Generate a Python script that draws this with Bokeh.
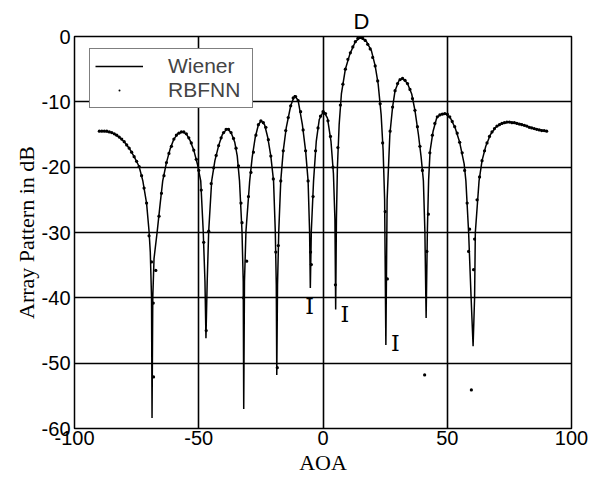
from bokeh.plotting import figure
from bokeh.models import Legend, LegendItem, Label, FixedTicker, Range1d, PrintfTickFormatter, Title
from bokeh.embed import file_html
from bokeh.resources import INLINE

# ---- Wiener array pattern (AOA in degrees, pattern in dB) ----
wiener_aoa = [-90, -88, -86, -84, -82, -80, -78, -76, -74, -72.5, -71, -70, -69.5, -69.0, -68.8,
              -68.5, -68, -66.7, -65.5, -64.5, -63, -61.5, -60, -58.5, -56.6, -55, -53.5, -52,
              -50.5, -49.2, -48.2, -47.5, -47.1, -46.6, -46.0, -44.8, -43.5, -42, -40.5, -38.6,
              -37, -35.5, -34.5, -33.6, -32.6, -32.1, -31.9, -31.6, -31.0, -29.5, -28.5, -27.3,
              -26, -24.9, -23.5, -22.2, -21, -19.9, -19.2, -18.8, -18.6, -18.3, -17.8, -17.0,
              -16, -14.8, -13, -11.4, -10, -8.3, -7, -6.0, -5.4, -5.1, -4.7, -3.8, -2.7, -1.5,
              0.2, 1.8, 3.2, 4.2, 4.8, 5.1, 5.4, 5.8, 6.5, 7.4, 9, 10.8, 13, 15.2, 17.5, 19.5,
              21, 22.2, 23.4, 24.2, 24.8, 25.3, 25.8, 26.9, 28, 29, 30.5, 32.1, 34, 35.7, 37,
              38.4, 39.5, 40.4, 41.0, 41.5, 42.0, 42.5, 43.1, 44.3, 45.8, 47.5, 49.4, 51.3, 53.2,
              55, 56.8, 57.5, 58.6, 59.6, 60.4, 61.0, 61.3, 62.8, 64, 65.5, 67.4, 69.5, 71.4,
              74.7, 77, 79.5, 82, 84.8, 87.5, 90]
wiener_db = [-14.5, -14.5, -14.6, -14.9, -15.4, -16.1, -17.1, -18.4, -19.9, -22.1, -25.5, -29.8, -33, -40, -58.4,
             -40, -34, -29.8, -25.5, -22.1, -19.3, -17.2, -15.7, -14.9, -14.6, -14.9, -15.9, -17.4,
             -19.6, -22.1, -29.8, -37.5, -46.2, -37.5, -29.8, -22.1, -19.0, -16.7, -15.0, -14.1,
             -14.7, -16.2, -18.3, -22.1, -29.8, -37.5, -57, -37.5, -29.8, -22.1, -18.5, -15.5,
             -13.5, -12.9, -13.5, -15.5, -18.3, -22.1, -29.8, -38, -51.8, -38, -29.8, -22.1,
             -17.5, -14.0, -10.6, -9.0, -9.8, -13.5, -17.5, -22.1, -29.8, -38.5, -29.8, -22.1, -16, -12.7,
             -11.4, -12.5, -16, -21, -28, -41.8, -28, -20, -13.5, -8.8, -5, -2.7, -0.8, -0.1, -0.8, -2.2,
             -4.5, -7.3, -12, -17.5, -25, -47.2, -25, -15, -10.8, -8.3, -6.8, -6.4, -7.2, -8.8, -11.3,
             -15, -18.5, -22.1, -29.8, -43.1, -29.8, -22, -17.5, -14.5, -12.4, -11.9, -11.8, -12.5, -14,
             -16.2, -19.5, -22.1, -30, -40, -47.4, -40, -30, -22.1, -19, -16.8, -15, -13.9, -13.4,
             -13.1, -13.2, -13.4, -13.7, -14.1, -14.3, -14.5]

# ---- RBFNN array pattern ----
rbf_aoa = [-90, -89, -88, -87, -86, -85, -84, -83, -82, -81, -80, -79, -78, -77, -76, -75, -74, -73,
           -72, -71, -70, -69, -68.3, -68.2, -67.3, -66, -65, -64, -63, -62, -61, -60, -59, -58, -57,
           -56, -55, -54, -53, -52, -51, -50, -49, -48, -47, -46, -45, -44, -43, -42, -41, -40, -39,
           -38, -37, -36, -35, -34, -33, -32.6, -32, -30.7, -30, -29, -28, -27, -26, -25, -24, -23,
           -22, -21, -20, -19, -18.4, -18, -17, -16, -15, -14, -13, -12, -11, -10, -9, -8, -7, -6,
           -5, -4.7, -4, -3, -2, -1, 0, 1, 2, 3, 4, 5, 6, 7, 8, 9, 10, 11, 12, 13, 14, 15, 16, 17, 18,
           19, 20, 21, 22, 23, 24, 25, 25.9, 27, 28, 29, 30, 31, 32, 33, 34, 35, 36, 37, 38, 39, 40,
           40.9, 41.8, 42.4, 43, 44, 45, 46, 47, 48, 49, 50, 51, 52, 53, 54, 55, 56, 57, 58, 58.6, 59,
           59.7, 60.6, 61, 62, 63, 64, 65, 66, 67, 68, 69, 70, 71, 72, 73, 74, 75, 76, 77, 78, 79,
           80, 81, 82, 83, 84, 85, 86, 87, 88, 89, 90]
rbf_db = [-14.5, -14.5, -14.5, -14.5, -14.6, -14.7, -14.9, -15.1, -15.4, -15.7, -16.1, -16.6, -17.1, -17.7,
          -18.4, -19.1, -19.9, -21.3, -23.2, -25.5, -30.5, -34.5, -40.8, -52.1, -35.8, -27.5, -24, -21.3,
          -19.3, -17.9, -16.8, -15.7, -15.1, -14.8, -14.6, -14.6, -14.9, -15.5, -16.3, -17.4, -18.8,
          -20.5, -23.5, -31.5, -45, -29.8, -22.5, -20.1, -18.2, -16.7, -15.5, -14.7, -14.2, -14.2,
          -14.7, -15.6, -17.1, -19.8, -25.5, -28.5, -40, -34.4, -24.5, -20.8, -17.7, -15.1, -13.5,
          -12.9, -13.2, -13.9, -15.8, -18.3, -21.8, -33, -50.7, -32, -22.1, -17.5, -14.4, -12.4,
          -10.6, -9.4, -9.2, -9.8, -11.5, -14.3, -17.5, -22.1, -33, -34.9, -24.5, -17.5, -14.0,
          -12.2, -11.5, -11.8, -12.9, -15.3, -20, -38, -17, -10.5, -7.3, -5, -3.5, -2.5, -1.6, -0.8,
          -0.3, -0.1, -0.3, -0.6, -1.2, -1.9, -3.2, -4.5, -6.8, -10.3, -16.3, -26.8, -37.1, -14.5,
          -10.8, -8.3, -7.2, -6.6, -6.4, -6.7, -7.2, -8.1, -9.5, -11.3, -13.8, -16.8, -20.5, -51.8,
          -32.9, -27.2, -17.8, -15.1, -13.3, -12.3, -12, -11.9, -11.8, -11.9, -12.3, -13, -13.8,
          -14.8, -16.2, -17.8, -20.5, -25.5, -32.9, -29.5, -54.1, -35.7, -31, -25, -21.5, -19,
          -17.5, -16.3, -15.3, -14.6, -14.1, -13.7, -13.5, -13.3, -13.2, -13.1, -13.1, -13.2,
          -13.2, -13.3, -13.4, -13.5, -13.6, -13.7, -13.9, -14.0, -14.1, -14.2, -14.3, -14.4,
          -14.4, -14.5]

x_ticks = [-100, -50, 0, 50, 100]
y_ticks = [-60, -50, -40, -30, -20, -10, 0]

# annotations: desired signal D (above the frame) and interferers I
d_text = "D"
i_marks_aoa = [-5.4, 8.8, 29.1]
i_marks_db = [-41.3, -42.6, -47.0]

p = figure(width=603, height=482, output_backend="svg", toolbar_location=None,
           x_range=Range1d(-100, 100), y_range=Range1d(-60, 0),
           min_border_left=74, min_border_right=32, min_border_top=36, min_border_bottom=54)
p.background_fill_color = "white"
p.border_fill_color = "white"
p.outline_line_color = "black"
p.outline_line_width = 1.5

# "D" marker placed above the main lobe (as a title so it is not clipped by the frame)
p.title = Title(text=d_text, align="left", offset=279, standoff=6,
                text_font="Liberation Sans", text_font_size="22px",
                text_font_style="normal", text_color="black")

p.xaxis.ticker = FixedTicker(ticks=x_ticks)
p.yaxis.ticker = FixedTicker(ticks=y_ticks)
for ax in (p.xaxis[0], p.yaxis[0]):
    ax.formatter = PrintfTickFormatter(format="%d")
    ax.axis_line_color = None
    ax.major_tick_line_color = None
    ax.minor_tick_line_color = None
    ax.major_tick_out = 0
    ax.major_tick_in = 0
    ax.minor_tick_out = 0
    ax.minor_tick_in = 0
    ax.major_label_text_font = "Liberation Sans"
    ax.major_label_text_font_size = "20px"
    ax.major_label_text_color = "black"
    ax.axis_label_text_font = "Liberation Serif"
    ax.axis_label_text_font_size = "22px"
    ax.axis_label_text_font_style = "normal"
    ax.axis_label_text_color = "black"
p.xaxis.axis_label = "AOA"
p.yaxis.axis_label = "Array Pattern in dB"
p.xaxis.major_label_standoff = 2
p.xaxis.axis_label_standoff = 2
p.yaxis.major_label_standoff = 4
p.yaxis.axis_label_standoff = 0

for g in (p.xgrid[0], p.ygrid[0]):
    g.grid_line_color = "black"
    g.grid_line_width = 1.6
    g.grid_line_alpha = 1.0

r_line = p.line(wiener_aoa, wiener_db, line_color="black", line_width=1.5)
r_dots = p.scatter(rbf_aoa, rbf_db, size=13, marker="dot", fill_color="black", line_color="black")

legend = Legend(items=[LegendItem(label="Wiener", renderers=[r_line]),
                       LegendItem(label="RBFNN", renderers=[r_dots])],
                location=(15, 320))
legend.label_text_font = "Liberation Sans"
legend.label_text_font_size = "21px"
legend.label_standoff = 25
legend.label_width = 79
legend.glyph_width = 48
legend.glyph_height = 20
legend.label_height = 20
legend.spacing = 0
legend.padding = 5
legend.margin = 0
legend.border_line_color = "black"
legend.border_line_width = 1.5
legend.background_fill_alpha = 1.0
p.add_layout(legend)

for xa, yd in zip(i_marks_aoa, i_marks_db):
    p.add_layout(Label(x=xa, y=yd, text="I", text_font="DejaVu Serif",
                       text_font_size="22px", text_align="center", text_baseline="middle",
                       text_color="black"))

open("out.html", "w").write(file_html(p, INLINE))
